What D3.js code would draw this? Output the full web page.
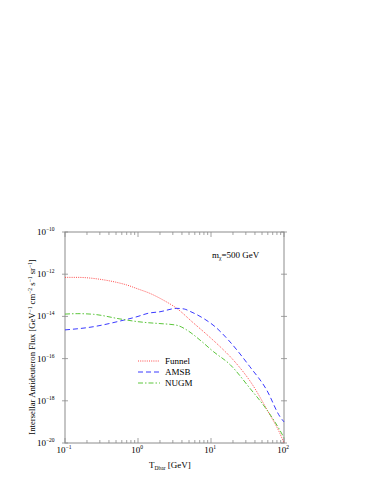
<!DOCTYPE html>
<html>
<head>
<meta charset="utf-8">
<script src="https://cdn.jsdelivr.net/npm/d3@7"></script>
<style>
  body { margin: 0; background: #fff; }
  text { font-family: "Liberation Serif", "DejaVu Serif", serif; fill: #000; }
</style>
</head>
<body>
<div id="chart"></div>
<script>
// kinetic energy T_Dbar [GeV] and log10 flux per model
const funnelT = [0.1, 0.15, 0.2, 0.3, 0.5, 0.7, 1.0, 1.46, 2.2, 3.4, 5.7, 8.7, 13, 20, 38, 58, 88, 100];
const funnelF = [-12.15, -12.15, -12.17, -12.24, -12.38, -12.51, -12.7, -12.91, -13.22, -13.62, -14.3, -14.85, -15.4, -16.05, -17.3, -18.4, -19.55, -20.0];

const amsbT = [0.1, 0.244, 0.566, 1.0, 1.38, 2.0, 3.4, 4.3, 5.15, 7.85, 11.4, 17.3, 34, 58, 88, 100];
const amsbF = [-14.64, -14.49, -14.22, -14.0, -13.85, -13.78, -13.62, -13.65, -13.76, -14.09, -14.49, -15.12, -16.38, -17.49, -18.75, -19.0];

const nugmT = [0.1, 0.15, 0.244, 0.566, 1.0, 1.38, 2.0, 3.4, 4.64, 7.06, 10.8, 18.2, 34, 58, 88, 100];
const nugmF = [-13.89, -13.87, -13.9, -14.12, -14.25, -14.3, -14.34, -14.42, -14.64, -15.12, -15.67, -16.28, -17.4, -18.42, -19.4, -19.75];

const xTickExp = [-1, 0, 1, 2];
const yTickExp = [-10, -12, -14, -16, -18, -20];

const seriesNames = ['Funnel', 'AMSB', 'NUGM'];

const width = 387, height = 501;
const margin = { left: 65, right: 103, top: 232, bottom: 58 };

const svg = d3.select('#chart').append('svg')
  .attr('width', width)
  .attr('height', height);

const x = d3.scaleLog().domain([0.1, 100]).range([margin.left, width - margin.right]);
const y = d3.scaleLog().domain([1e-20, 1e-10]).range([height - margin.bottom, margin.top]);

const axisColor = '#8c8c8c';
const x0 = margin.left, x1 = width - margin.right;
const y0 = height - margin.bottom, y1 = margin.top;

// frame
svg.append('rect')
  .attr('x', x0).attr('y', y1)
  .attr('width', x1 - x0).attr('height', y0 - y1)
  .attr('fill', 'none')
  .attr('stroke', axisColor)
  .attr('stroke-width', 1);

// x ticks, minor on bottom and top (inside)
const xMinor = [];
[0.1, 1, 10].forEach(function (d) {
  for (let k = 1; k < 10; k++) xMinor.push(d * k);
});
xMinor.push(100);

const ticks = svg.append('g').attr('stroke', axisColor).attr('stroke-width', 0.8);
xMinor.forEach(function (v) {
  const major = Math.abs(Math.log10(v) - Math.round(Math.log10(v))) < 1e-9;
  const len = major ? 5 : 3;
  ticks.append('line').attr('x1', x(v)).attr('x2', x(v)).attr('y1', y0).attr('y2', y0 - len);
  ticks.append('line').attr('x1', x(v)).attr('x2', x(v)).attr('y1', y1).attr('y2', y1 + len);
});

// y ticks, crossing the frame on both sides
yTickExp.forEach(function (e) {
  const yy = y(Math.pow(10, e));
  ticks.append('line').attr('x1', x0 - 3).attr('x2', x0 + 3).attr('y1', yy).attr('y2', yy);
  ticks.append('line').attr('x1', x1 - 3).attr('x2', x1 + 3).attr('y1', yy).attr('y2', yy);
});

// tick labels
function powLabel(sel, e) {
  sel.append('tspan').text('10');
  sel.append('tspan').attr('dy', -4).attr('font-size', 5.5).text(e < 0 ? '\u2212' + (-e) : e);
}

xTickExp.forEach(function (e) {
  const t = svg.append('text')
    .attr('x', x(Math.pow(10, e)) - 1)
    .attr('y', y0 + 10)
    .attr('font-size', 9)
    .attr('text-anchor', 'middle');
  powLabel(t, e);
});

yTickExp.forEach(function (e) {
  const t = svg.append('text')
    .attr('x', x0 - 28)
    .attr('y', y(Math.pow(10, e)) + 3)
    .attr('font-size', 9)
    .attr('text-anchor', 'start');
  powLabel(t, e);
});

// axis titles
const xt = svg.append('text')
  .attr('x', 149)
  .attr('y', y0 + 25)
  .attr('font-size', 9);
xt.append('tspan').text('T');
xt.append('tspan').attr('dy', 2).attr('font-size', 5.5).text('Dbar');
xt.append('tspan').attr('dy', -2).text(' [GeV]');

const yt = svg.append('text')
  .attr('transform', 'translate(35,347) rotate(-90)')
  .attr('text-anchor', 'middle')
  .attr('font-size', 8.7);
yt.append('tspan').text('Intersellar Antideuteron Flux [GeV');
yt.append('tspan').attr('dy', -3).attr('font-size', 5.5).text('\u22121');
yt.append('tspan').attr('dy', 3).text(' cm');
yt.append('tspan').attr('dy', -3).attr('font-size', 5.5).text('\u22122');
yt.append('tspan').attr('dy', 3).text(' s');
yt.append('tspan').attr('dy', -3).attr('font-size', 5.5).text('\u22121');
yt.append('tspan').attr('dy', 3).text(' sr');
yt.append('tspan').attr('dy', -3).attr('font-size', 5.5).text('\u22121');
yt.append('tspan').attr('dy', 3).text(']');

// mass annotation
const mt = svg.append('text')
  .attr('x', 212)
  .attr('y', 258)
  .attr('font-size', 9);
mt.append('tspan').text('m');
mt.append('tspan').attr('dy', 2).attr('font-size', 5.5).text('\u03c7');
mt.append('tspan').attr('dy', -2).text('=500 GeV');

// curves
const series = [
  { name: seriesNames[0], t: funnelT, f: funnelF, color: '#ff4a4a', dash: '1,1.2' },
  { name: seriesNames[1], t: amsbT, f: amsbF, color: '#3a3aff', dash: '5,3' },
  { name: seriesNames[2], t: nugmT, f: nugmF, color: '#5cc63c', dash: '5,2,1.5,2' }
];

const line = d3.line()
  .x(function (d) { return x(d[0]); })
  .y(function (d) { return y(Math.pow(10, d[1])); })
  .curve(d3.curveMonotoneX);

const plot = svg.append('g');
series.forEach(function (s) {
  const pts = s.t.map(function (t, i) { return [t, s.f[i]]; });
  plot.append('path')
    .datum(pts)
    .attr('d', line)
    .attr('fill', 'none')
    .attr('stroke', s.color)
    .attr('stroke-width', 1)
    .attr('stroke-dasharray', s.dash);
});

// legend
const legend = svg.append('g');
series.forEach(function (s, i) {
  const ly = 361 + i * 11;
  legend.append('line')
    .attr('x1', 138).attr('x2', 160)
    .attr('y1', ly).attr('y2', ly)
    .attr('stroke', s.color)
    .attr('stroke-width', 1)
    .attr('stroke-dasharray', s.dash);
  legend.append('text')
    .attr('x', 165)
    .attr('y', ly + 3)
    .attr('font-size', 9)
    .text(s.name);
});
</script>
</body>
</html>
